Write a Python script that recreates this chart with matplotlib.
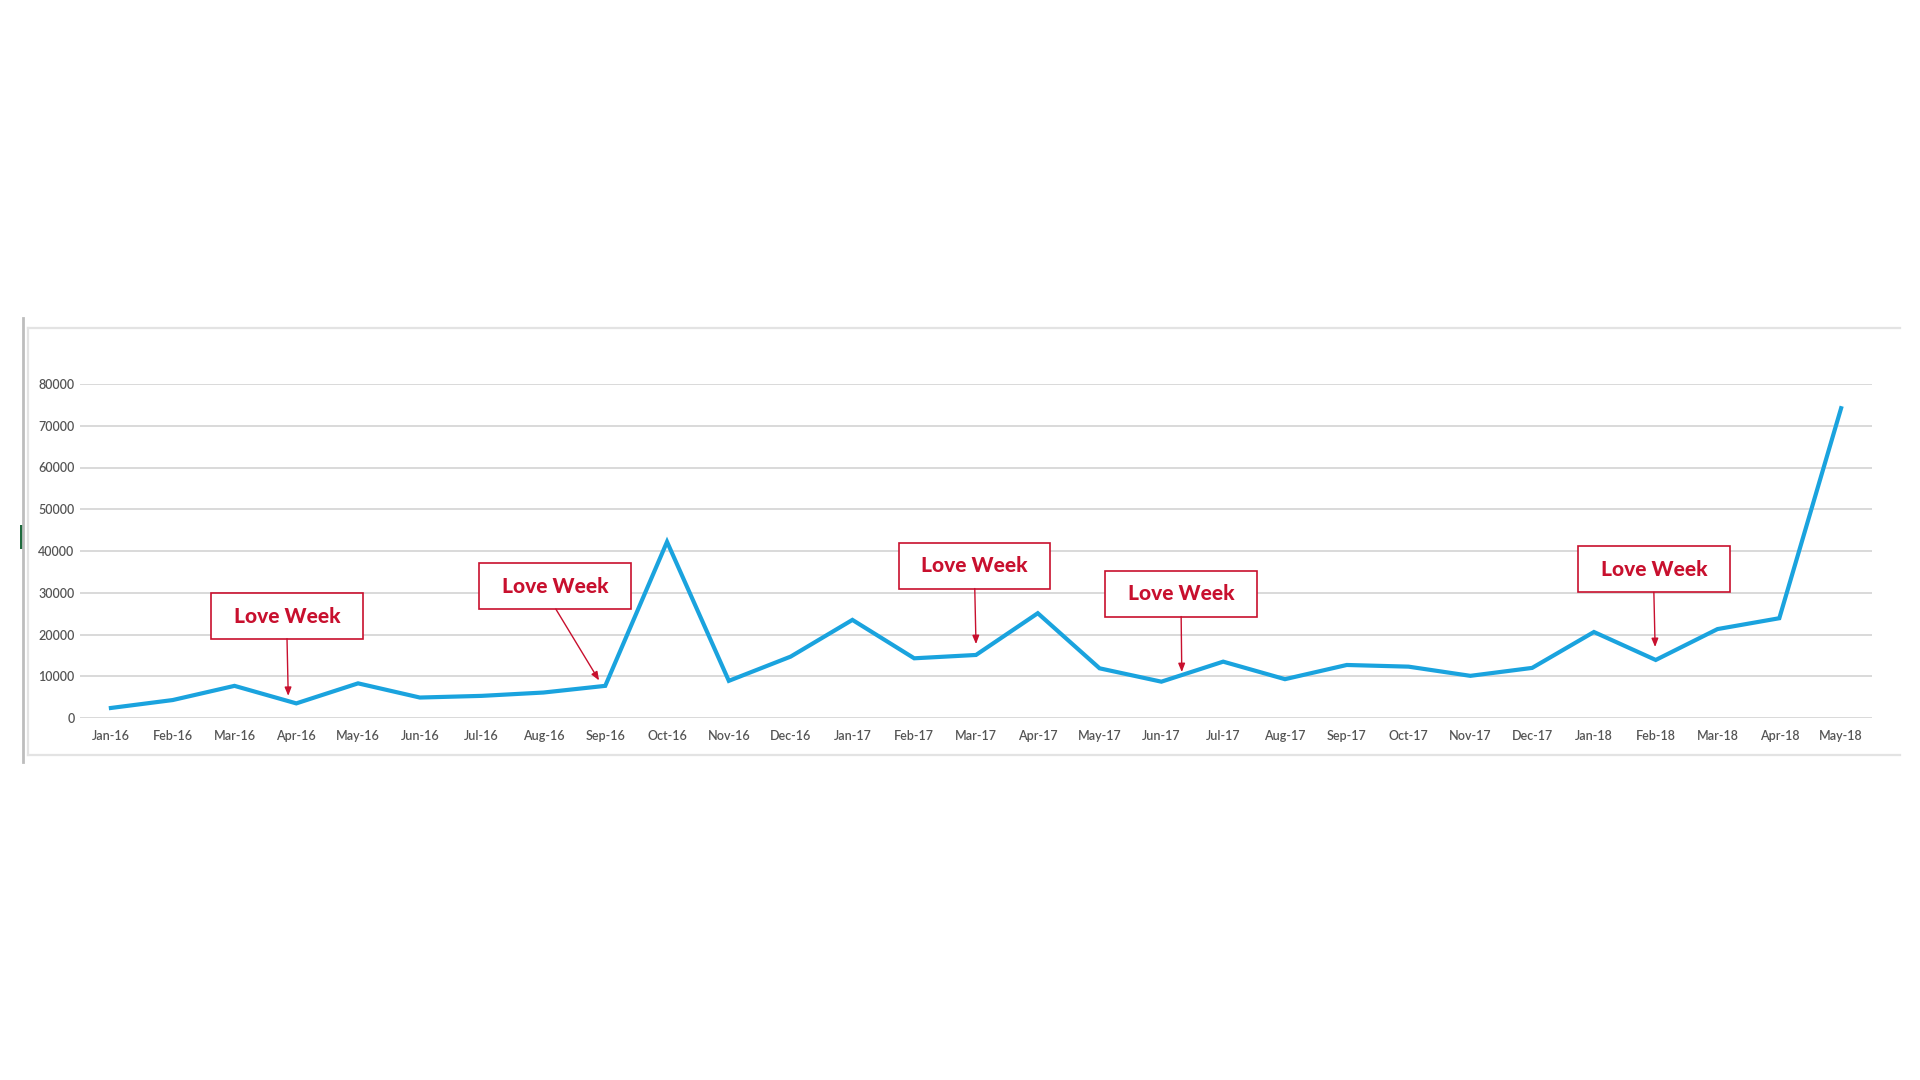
import matplotlib

matplotlib.use("Agg")
import matplotlib.pyplot as plt
from matplotlib.lines import Line2D
from matplotlib.patches import Rectangle

# monthly values
months = [
    "Jan-16", "Feb-16", "Mar-16", "Apr-16", "May-16", "Jun-16", "Jul-16", "Aug-16",
    "Sep-16", "Oct-16", "Nov-16", "Dec-16", "Jan-17", "Feb-17", "Mar-17", "Apr-17",
    "May-17", "Jun-17", "Jul-17", "Aug-17", "Sep-17", "Oct-17", "Nov-17", "Dec-17",
    "Jan-18", "Feb-18", "Mar-18", "Apr-18", "May-18",
]
values = [
    2400, 4300, 7700, 3500, 8300, 4900, 5300, 6100,
    7700, 42200, 8900, 14700, 23500, 14300, 15100, 25100,
    11900, 8700, 13500, 9300, 12700, 12300, 10100, 12000,
    20600, 13900, 21300, 23900, 74200,
]
y_ticks = [0, 10000, 20000, 30000, 40000, 50000, 60000, 70000, 80000]

# "Love Week" callouts: box centre (x index, y value) and arrow tip
note_label = "Love Week"
note_box = [(2.85, 24400), (7.19, 31600), (13.98, 36500), (17.32, 29800), (24.97, 35600)]
note_tail = [(2.85, 19000), (7.2, 26100), (13.98, 31000), (17.32, 24300), (24.97, 30100)]
note_tip = [(2.87, 5300), (7.9, 9000), (14.0, 17700), (17.33, 11000), (24.99, 17000)]

W, H = 1920, 1080
LINE = "#1AA3DE"
RED = "#C8102E"
GRID = "#D9D9D9"
TXT = "#555555"

plt.rcParams["font.family"] = ["Lato", "DejaVu Sans"]

fig = plt.figure(figsize=(W / 100, H / 100), dpi=100)

# chart frame from the screenshot
def px(x, y):
    return x / W, 1 - y / H

for (x0, y0), (x1, y1) in [((28, 328), (1900, 328)), ((28, 755), (1900, 755)), ((28, 328), (28, 755))]:
    a, b = px(x0, y0), px(x1, y1)
    fig.add_artist(Line2D([a[0], b[0]], [a[1], b[1]], color="#E3E3E3", lw=1.6))
a, b = px(23, 318), px(23, 762)
fig.add_artist(Line2D([a[0], b[0]], [a[1], b[1]], color="#BDBDBD", lw=2.0))
a, b = px(20, 525), px(24, 549)
fig.add_artist(Rectangle(a, b[0] - a[0], b[1] - a[1], color="#1F6B3E", lw=0))

l, t = px(80, 384)
r, btm = px(1872, 718)
ax = fig.add_axes([l, btm, r - l, t - btm])

x = list(range(len(months)))
ax.plot(x, values, color=LINE, lw=3.0, solid_joinstyle="miter", zorder=3)

ax.set_xlim(-0.5, len(months) - 0.5)
ax.set_ylim(0, 80000)
ax.set_yticks(y_ticks)
ax.set_yticklabels([str(v) for v in y_ticks])
ax.set_xticks(x)
ax.set_xticklabels(months)
ax.tick_params(axis="both", length=0, labelsize=9, colors=TXT)
ax.tick_params(axis="x", pad=9)
ax.tick_params(axis="y", pad=4)
for lab in ax.get_xticklabels() + ax.get_yticklabels():
    lab.set_fontweight("semibold")
ax.grid(axis="y", color=GRID, lw=1.4)
ax.set_axisbelow(True)
for s in ax.spines.values():
    s.set_visible(False)

bw, bh = 2.45, 11000
for (cx, cy), tail, tip in zip(note_box, note_tail, note_tip):
    ax.add_patch(Rectangle((cx - bw / 2, cy - bh / 2), bw, bh, fill=True, facecolor="white",
                           edgecolor=RED, lw=1.2, zorder=5, clip_on=False))
    ax.text(cx, cy, note_label, ha="center", va="center", color=RED, fontsize=15,
            fontweight="black", zorder=6)
    ax.annotate("", xy=tip, xytext=tail,
                arrowprops=dict(arrowstyle="-|>,head_length=0.5,head_width=0.2", color=RED,
                                lw=1.0, shrinkA=0, shrinkB=0), zorder=6)

fig.savefig("out.png", dpi=100, facecolor="white")
